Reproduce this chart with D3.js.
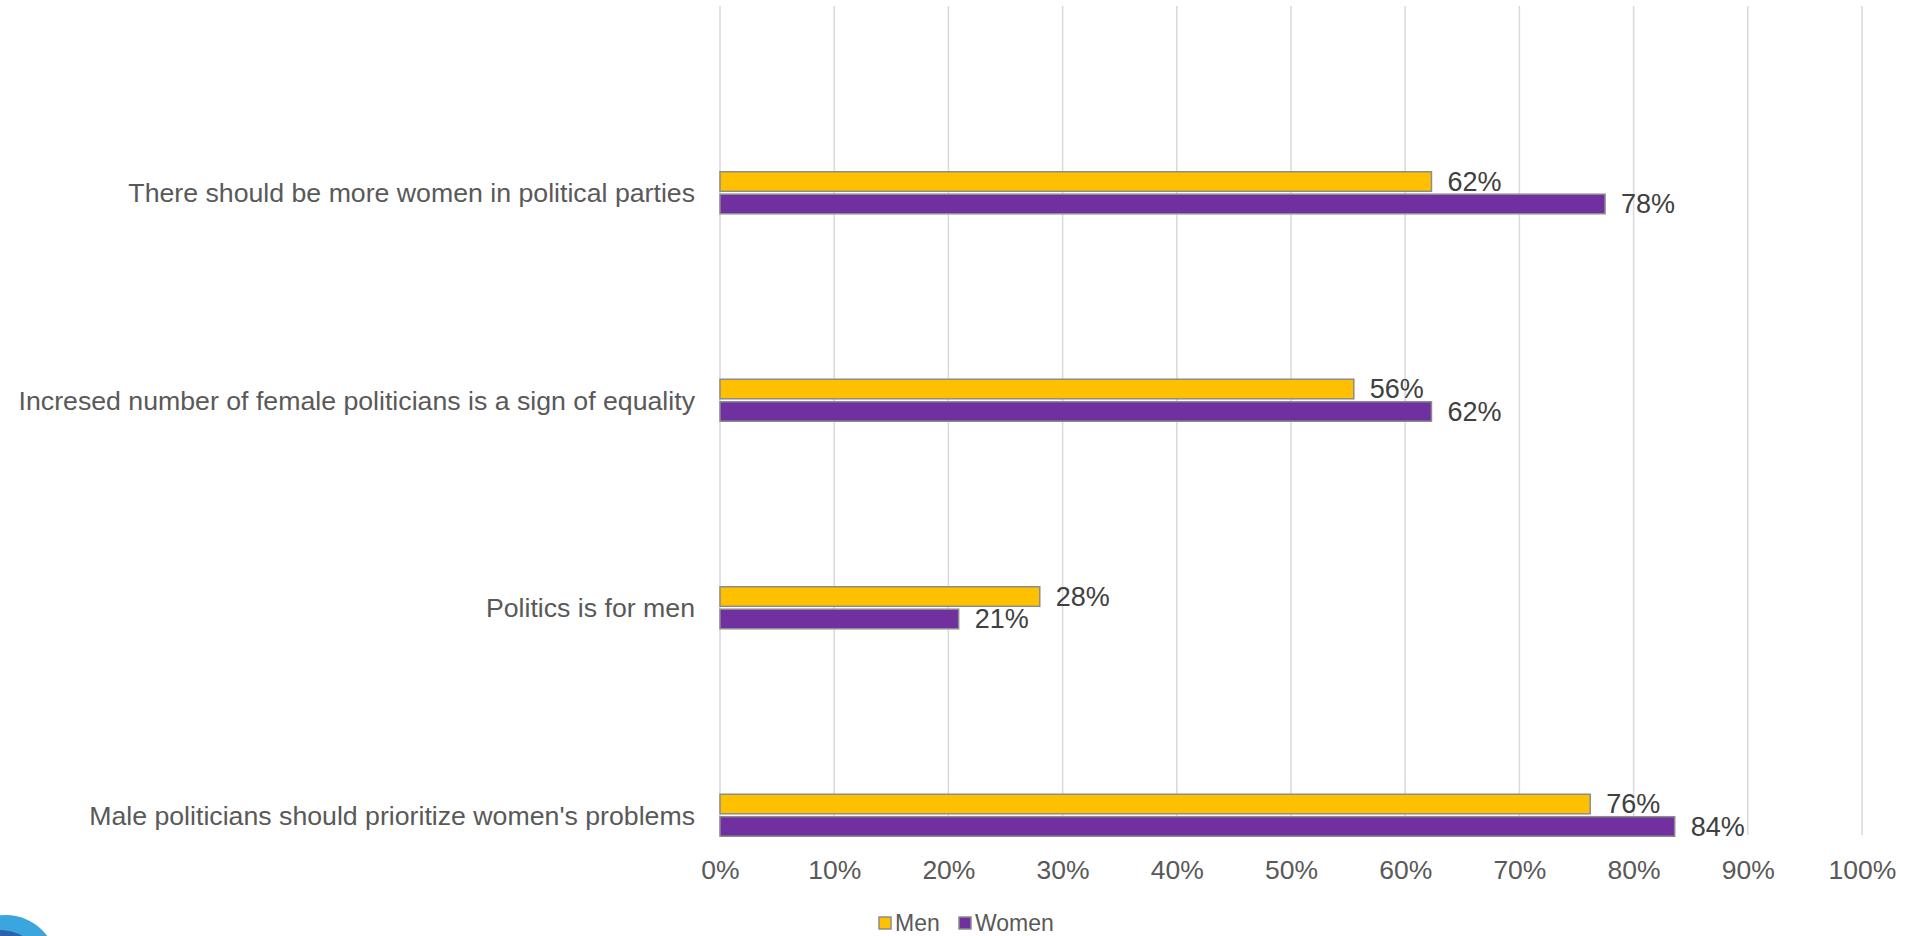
<!DOCTYPE html>
<html>
<head>
<meta charset="utf-8">
<script src="https://cdn.jsdelivr.net/npm/d3@7"></script>
<style>
  html, body { margin: 0; padding: 0; background: #fff; }
  svg { display: block; font-family: "Liberation Sans", Arial, sans-serif; }
</style>
</head>
<body>
<svg id="chart" width="1906" height="936"></svg>
<script>
const categories = [
  "There should be more women in political parties",
  "Incresed number of female politicians is a sign of equality",
  "Politics is for men",
  "Male politicians should prioritize women's problems"
];
const menValues   = [62.3, 55.5, 28.0, 76.2];
const womenValues = [77.5, 62.3, 20.9, 83.6];
const menLabels   = ["62%", "56%", "28%", "76%"];
const womenLabels = ["78%", "62%", "21%", "84%"];
const seriesNames = ["Men", "Women"];
const tickValues  = [0, 10, 20, 30, 40, 50, 60, 70, 80, 90, 100];

const colors = { Men: "#FFC000", Women: "#7030A0" };

const svg = d3.select("#chart");

const x = d3.scaleLinear().domain([0, 100]).range([720, 1862]);
const y = d3.scaleBand().domain(categories).range([89, 919]);
const sub = d3.scaleBand().domain(seriesNames).range([-21, 21]).paddingInner(0.13);

const gridTop = 6, gridBottom = 835;

// gridlines
svg.append("g").selectAll("line")
  .data(tickValues)
  .join("line")
  .attr("x1", d => x(d)).attr("x2", d => x(d))
  .attr("y1", gridTop).attr("y2", gridBottom)
  .attr("stroke", "#d9d9d9").attr("stroke-width", 1.5);

// x tick labels
const xAxis = d3.axisBottom(x).tickValues(tickValues).tickFormat(d => d + "%").tickSize(0);
const gx = svg.append("g").attr("transform", `translate(0, 868)`).call(xAxis);
gx.select(".domain").remove();
gx.selectAll("text")
  .attr("fill", "#595959")
  .attr("font-size", "26.5px")
  .attr("font-family", "Liberation Sans, Arial, sans-serif")
  .attr("dy", "0.32em");

// category labels
const yAxis = d3.axisLeft(y).tickSize(0).tickPadding(0);
const gy = svg.append("g").attr("transform", `translate(695, 0)`).call(yAxis);
gy.select(".domain").remove();
gy.selectAll("text")
  .attr("fill", "#595959")
  .attr("font-size", "26.7px")
  .attr("font-family", "Liberation Sans, Arial, sans-serif")
  .attr("dy", "0.35em");

const rows = categories.map((c, i) => ({
  cat: c,
  vals: [
    { s: "Men", v: menValues[i], lab: menLabels[i] },
    { s: "Women", v: womenValues[i], lab: womenLabels[i] }
  ]
}));

const groups = svg.append("g").selectAll("g")
  .data(rows)
  .join("g")
  .attr("transform", d => `translate(0, ${y(d.cat) + y.bandwidth() / 2})`);

groups.selectAll("rect")
  .data(d => d.vals)
  .join("rect")
  .attr("x", x(0))
  .attr("y", d => sub(d.s))
  .attr("width", d => x(d.v) - x(0))
  .attr("height", sub.bandwidth())
  .attr("fill", d => colors[d.s])
  .attr("stroke", "#8c8c8c")
  .attr("stroke-width", 1.5);

groups.selectAll("text")
  .data(d => d.vals)
  .join("text")
  .attr("x", d => x(d.v) + 16)
  .attr("y", d => sub(d.s) + sub.bandwidth() / 2)
  .attr("dy", "0.35em")
  .attr("fill", "#404040")
  .attr("font-size", "27px")
  .text(d => d.lab);

// legend
const legend = svg.append("g").attr("transform", "translate(879, 917)");
const legItems = [{ s: "Men", x: 0 }, { s: "Women", x: 80 }];
const li = legend.selectAll("g").data(legItems).join("g")
  .attr("transform", d => `translate(${d.x}, 0)`);
li.append("rect")
  .attr("width", 12).attr("height", 12)
  .attr("fill", d => colors[d.s])
  .attr("stroke", "#8c8c8c").attr("stroke-width", 1.5);
li.append("text")
  .attr("x", 16).attr("y", 6).attr("dy", "0.35em")
  .attr("fill", "#595959").attr("font-size", "23px")
  .text(d => d.s);

// logo fragment bottom-left
svg.append("circle").attr("cx", 6).attr("cy", 966).attr("r", 51).attr("fill", "#3aa6dd");
svg.append("circle").attr("cx", 0).attr("cy", 976).attr("r", 46).attr("fill", "#2f62ad");
</script>
</body>
</html>
